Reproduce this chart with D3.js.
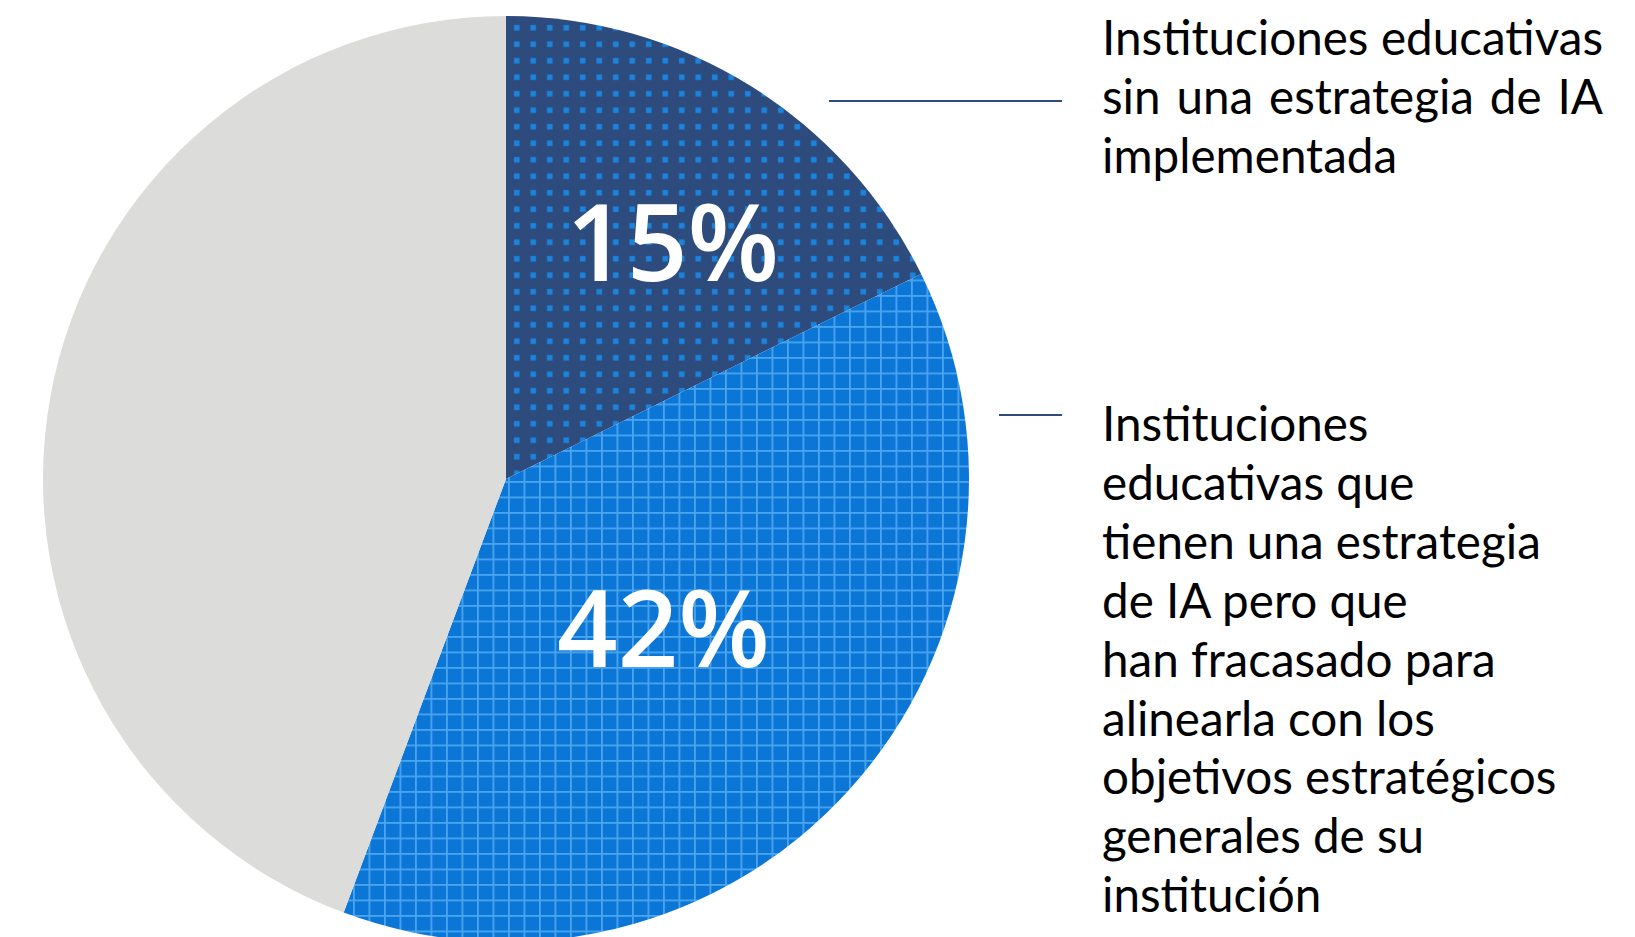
<!doctype html>
<html lang="es">
<head>
<meta charset="utf-8">
<title>Estrategia de IA</title>
<script src="https://cdn.jsdelivr.net/npm/d3@7"></script>
<style>
  html, body { margin: 0; padding: 0; background: #fff; }
  svg { display: block; }
</style>
</head>
<body>
<script>

// Data
var categories = ["sin estrategia", "estrategia no alineada", "resto"];
// slice sizes as drawn in the picture (share of the full circle, %)
var shares = [17.7, 38.0, 44.3];
var labels = ["15%", "42%", ""];

var note1 = ["Instituciones educativas", "sin una estrategia de IA", "implementada"];
var note2 = ["Instituciones", "educativas que", "tienen una estrategia", "de IA pero que",
             "han fracasado para", "alinearla con los", "objetivos estratégicos",
             "generales de su", "institución"];

// Graphics
var outerWidth = 1635;
var outerHeight = 937;
var cx = 506, cy = 479, radius = 463;

var svg = d3.select("body").append("svg")
  .attr("width", outerWidth)
  .attr("height", outerHeight);

var defs = svg.append("defs");

// dotted pattern (dark slice)
var dots = defs.append("pattern")
  .attr("id", "dots")
  .attr("patternUnits", "userSpaceOnUse")
  .attr("x", 3).attr("y", 3)
  .attr("width", 16.5).attr("height", 16.5);
dots.append("rect").attr("width", 16.5).attr("height", 16.5).attr("fill", "#2d4b7c");
dots.append("rect").attr("x", 5).attr("y", 5).attr("width", 5.5).attr("height", 5.5).attr("fill", "#1b84de");

// grid pattern (blue slice)
var grid = defs.append("pattern")
  .attr("id", "grid")
  .attr("patternUnits", "userSpaceOnUse")
  .attr("x", 2).attr("y", 2)
  .attr("width", 15.5).attr("height", 15.5);
grid.append("rect").attr("width", 15.5).attr("height", 15.5).attr("fill", "#0b76d6");
grid.append("rect").attr("x", 0).attr("y", 0).attr("width", 1.8).attr("height", 15.5).attr("fill", "#4aa4ee");
grid.append("rect").attr("x", 0).attr("y", 0).attr("width", 15.5).attr("height", 1.8).attr("fill", "#4aa4ee");

var fills = ["url(#dots)", "url(#grid)", "#dcdcda"];

var pie = d3.pie()
  .sort(null)
  .value(function(d) { return d; });

var arc = d3.arc()
  .innerRadius(0)
  .outerRadius(radius);

var arcs = pie(shares);

var g = svg.append("g")
  .attr("transform", "translate(" + cx + "," + cy + ")");

g.selectAll("path")
  .data(arcs)
  .enter()
  .append("path")
  .attr("d", arc)
  .attr("fill", function(d, i) { return fills[i]; });

// percent labels
var labelRadius = [0.625, 0.47, 0];
var labelNudge = [[14, 10], [-4, 4], [0, 0]];
g.selectAll("text.pct")
  .data(arcs)
  .enter()
  .append("text")
  .attr("class", "pct")
  .attr("transform", function(d, i) {
    var r = radius * labelRadius[i];
    var c = d3.arc().innerRadius(r).outerRadius(r).centroid(d);
    return "translate(" + (c[0] + labelNudge[i][0]) + "," + (c[1] + labelNudge[i][1]) + ")";
  })
  .attr("text-anchor", "middle")
  .attr("dy", "0.36em")
  .attr("font-family", "'Open Sans', sans-serif")
  .attr("font-weight", 600)
  .attr("font-size", "106px")
  .attr("fill", "#fff")
  .text(function(d, i) { return labels[i]; });

// leader lines
svg.append("line")
  .attr("x1", 829).attr("x2", 1062)
  .attr("y1", 101).attr("y2", 101)
  .attr("stroke", "#2f4b7c").attr("stroke-width", 2);

svg.append("line")
  .attr("x1", 999).attr("x2", 1062)
  .attr("y1", 415).attr("y2", 415)
  .attr("stroke", "#2f4b7c").attr("stroke-width", 2);

// notes
var textX = 1102, textRight = 1603, lineH = 58.9;
var fontSize = 47.6;

function note(lines, y0, justify) {
  var t = svg.append("g");
  lines.forEach(function(s, i) {
    var el = t.append("text")
      .attr("x", textX)
      .attr("y", y0 + i * lineH)
      .attr("font-family", "Lato, sans-serif")
      .attr("font-size", fontSize + "px")
      .attr("fill", "#000")
      .text(s);
    if (justify && i < lines.length - 1) {
      var gaps = s.split(" ").length - 1;
      var len = el.node().getComputedTextLength();
      if (gaps > 0) el.attr("word-spacing", (textRight - textX - len) / gaps);
    }
  });
}

note(note1, 55, true);
note(note2, 441, false);

</script>
</body>
</html>
